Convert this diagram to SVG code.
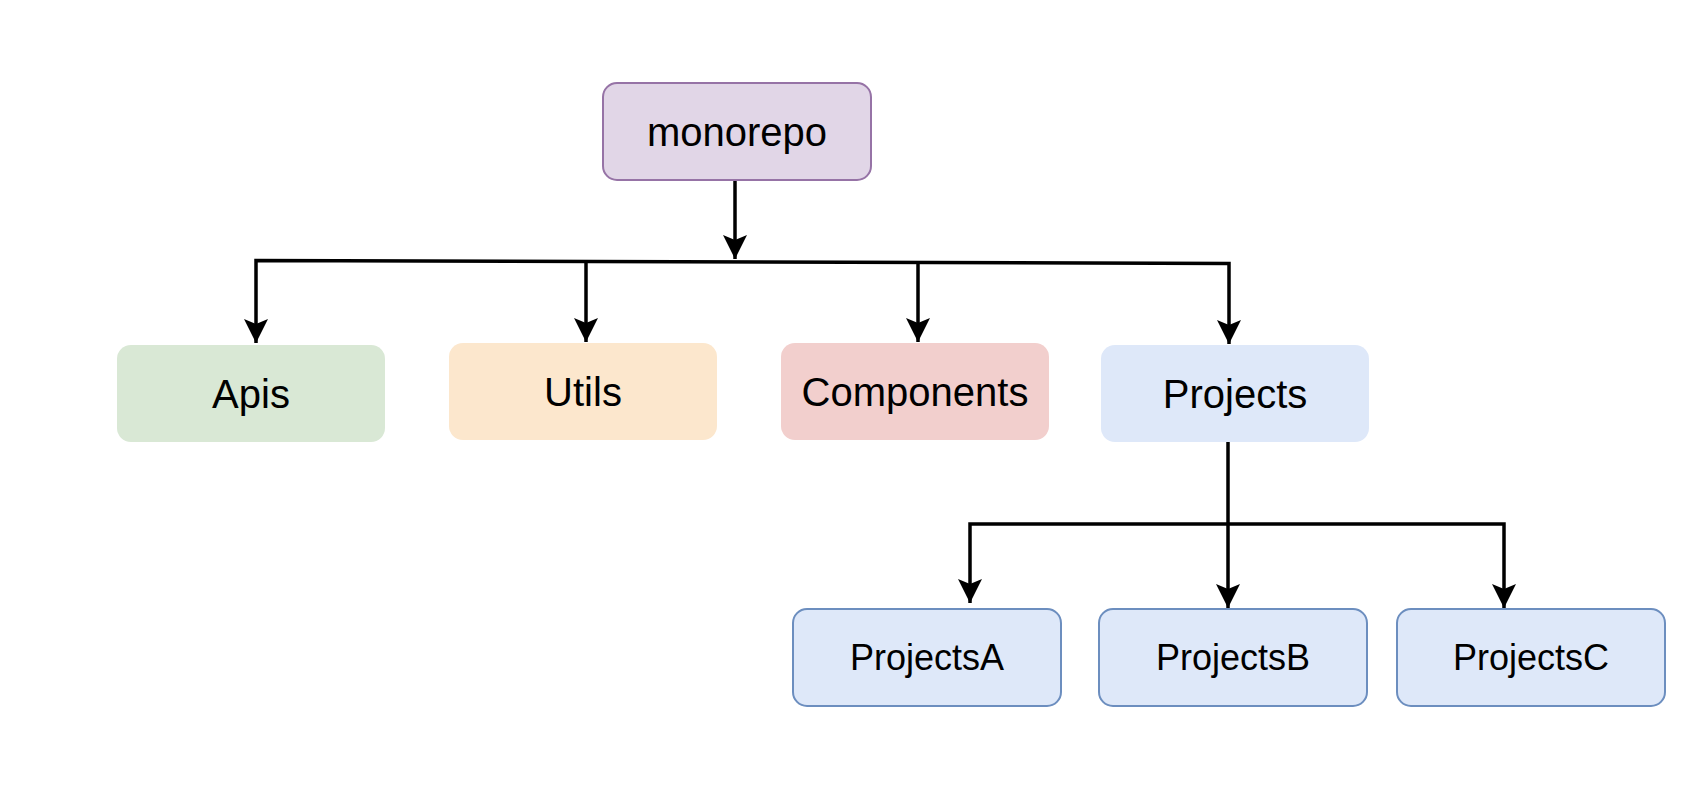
<svg xmlns="http://www.w3.org/2000/svg" width="1698" height="794" viewBox="0 0 1698 794">
<style>
.t{font-family:"Liberation Sans",Arial,sans-serif;font-size:40px;fill:#000;text-anchor:middle}
.s{font-size:36px}
.e{fill:none;stroke:#000;stroke-width:3.5;stroke-linejoin:miter}
</style>
<defs>
<marker id="ar" markerUnits="userSpaceOnUse" markerWidth="26" markerHeight="26" refX="24" refY="13" orient="auto-start-reverse" viewBox="0 0 26 26">
<path d="M0 1 L24 13 L0 25 L5 13 Z" fill="#000"/>
</marker>
</defs>
<rect width="1698" height="794" fill="#fff"/>
<g id="connectors">
<path class="e" d="M735 180 V259" marker-end="url(#ar)"/>
<path class="e" d="M256 343 V260.5 L1229 263.5 V344" marker-start="url(#ar)" marker-end="url(#ar)"/>
<path class="e" d="M586 261.5 V342" marker-end="url(#ar)"/>
<path class="e" d="M918 262.5 V342" marker-end="url(#ar)"/>
<path class="e" d="M1228 442 V608" marker-end="url(#ar)"/>
<path class="e" d="M970 603 V524 H1504 V608" marker-start="url(#ar)" marker-end="url(#ar)"/>
</g>
<g id="monorepo">
<rect x="603" y="83" width="268" height="97" rx="14" fill="#e1d6e7" stroke="#9673a6" stroke-width="2"/>
<text class="t" x="737" y="146">monorepo</text>
</g>
<g id="apis">
<rect x="117" y="345" width="268" height="97" rx="14" fill="#d9e8d5"/>
<text class="t" x="251" y="408">Apis</text>
</g>
<g id="utils">
<rect x="449" y="343" width="268" height="97" rx="14" fill="#fce7cd"/>
<text class="t" x="583" y="406">Utils</text>
</g>
<g id="components">
<rect x="781" y="343" width="268" height="97" rx="14" fill="#f2cfcd"/>
<text class="t" x="915" y="406">Components</text>
</g>
<g id="projects">
<rect x="1101" y="345" width="268" height="97" rx="14" fill="#dee8f9"/>
<text class="t" x="1235" y="408">Projects</text>
</g>
<g id="projectsA">
<rect x="793" y="609" width="268" height="97" rx="14" fill="#dee8f9" stroke="#6c8ebf" stroke-width="2"/>
<text class="t s" x="927" y="670">ProjectsA</text>
</g>
<g id="projectsB">
<rect x="1099" y="609" width="268" height="97" rx="14" fill="#dee8f9" stroke="#6c8ebf" stroke-width="2"/>
<text class="t s" x="1233" y="670">ProjectsB</text>
</g>
<g id="projectsC">
<rect x="1397" y="609" width="268" height="97" rx="14" fill="#dee8f9" stroke="#6c8ebf" stroke-width="2"/>
<text class="t s" x="1531" y="670">ProjectsC</text>
</g>
</svg>
